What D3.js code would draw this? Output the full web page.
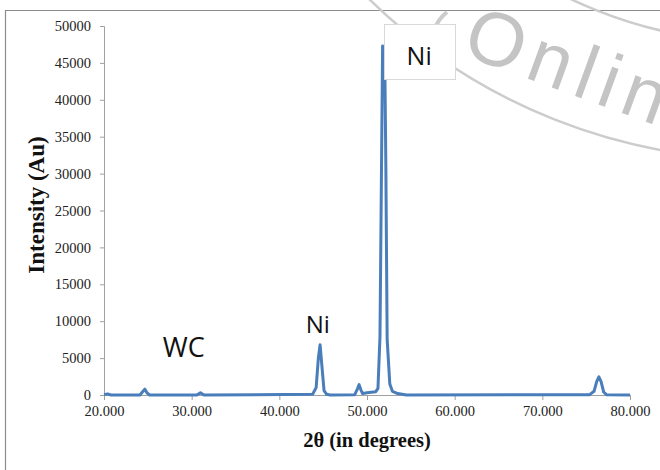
<!DOCTYPE html>
<html><head><meta charset="utf-8">
<script src="https://cdn.jsdelivr.net/npm/d3@7"></script>
<style>html,body{margin:0;padding:0;background:#fff;}svg{display:block;}</style>
</head><body>
<svg id="chart" width="660" height="470"></svg>
<script>
const twoTheta = [20.0, 20.4, 20.8, 24.1, 24.45, 24.65, 24.9, 25.2, 30.6, 31.0, 31.4,
  43.8, 44.2, 44.45, 44.65, 44.85, 45.1, 45.4, 45.8,
  48.6, 48.9, 49.1, 49.3, 49.5, 50.0, 51.0, 51.25, 51.48, 51.78, 52.05, 52.15, 52.3, 52.6, 52.9, 53.5, 54.5,
  75.4, 75.9, 76.2, 76.45, 76.7, 77.0, 77.3, 80.0];
const intensity = [50, 150, 0, 0, 500, 800, 300, 0, 0, 300, 0,
  100, 1000, 5000, 6800, 4000, 600, 100, 0,
  50, 800, 1400, 700, 200, 300, 450, 900, 7900, 47300, 43000, 31000, 7500, 1500, 500, 200, 0,
  50, 500, 1800, 2450, 1800, 400, 50, 0];
const xTicks = [20, 30, 40, 50, 60, 70, 80];
const yTicks = [0, 5000, 10000, 15000, 20000, 25000, 30000, 35000, 40000, 45000, 50000];
const labels = [
  {text: "WC", x: 26.7, y: 5100, size: 27},
  {text: "Ni", x: 43.0, y: 8400, size: 24}
];
const boxLabel = {text: "Ni", x: 55.95, y: 44700};

const svg = d3.select("#chart");
const x = d3.scaleLinear().domain([20, 80]).range([104, 630]);
const y = d3.scaleLinear().domain([0, 50000]).range([395, 26]);

// outer frame (left and top)
svg.append("path").attr("d", "M5.5,470 V10.5 H660").attr("fill", "none")
  .attr("stroke", "#8c8c8c").attr("stroke-width", 1.2);

// watermark
const wm = svg.append("g").attr("fill", "none").attr("stroke", "#cccccc").attr("stroke-width", 2.5);
wm.append("circle").attr("cx", 761).attr("cy", -401).attr("r", 560);
wm.append("circle").attr("cx", 761).attr("cy", -401).attr("r", 443);
wm.append("path").attr("d", "M437,46 Q428,28 447,12").attr("stroke-width", 4);
svg.append("text").text("Online")
  .attr("transform", "translate(460,54) rotate(20)")
  .attr("font-family", "Liberation Sans, Arial, sans-serif")
  .attr("font-size", 76).attr("letter-spacing", 8).attr("fill", "#c4c4c4");

// axes
const yAxis = d3.axisLeft(y).tickValues(yTicks).tickSize(4).tickPadding(9).tickFormat(d3.format("d"));
const xAxis = d3.axisBottom(x).tickValues(xTicks).tickSize(5).tickPadding(6).tickFormat(d3.format(".3f"));
const gy = svg.append("g").attr("transform", "translate(104,0)").call(yAxis);
const gx = svg.append("g").attr("transform", "translate(0,395)").call(xAxis);
[gx, gy].forEach(g => {
  g.select(".domain").attr("stroke", "#a0a0a0");
  g.selectAll(".tick line").attr("stroke", "#a0a0a0");
  g.selectAll("text").attr("font-family", "Liberation Serif, Times New Roman, serif")
    .attr("font-size", 14.5).attr("fill", "#222");
});

// line
const line = d3.line().x((d, i) => x(twoTheta[i])).y(d => y(d));
svg.append("path").datum(intensity).attr("d", line).attr("fill", "none")
  .attr("stroke", "#4a7ebb").attr("stroke-width", 3).attr("stroke-linejoin", "round");

// annotation box
svg.append("rect").attr("x", 384.5).attr("y", 24.5).attr("width", 71).attr("height", 55)
  .attr("fill", "#fff").attr("stroke", "#d9d9d9");
svg.append("text").text(boxLabel.text).attr("x", x(boxLabel.x)).attr("y", y(boxLabel.y))
  .attr("text-anchor", "middle").attr("font-family", "Open Sans, sans-serif")
  .attr("font-size", 25).attr("fill", "#111");

labels.forEach(l => {
  svg.append("text").text(l.text).attr("x", x(l.x)).attr("y", y(l.y))
    .attr("font-family", "Open Sans, sans-serif").attr("font-size", l.size)
    .attr("fill", "#111");
});

// axis titles
svg.append("text").text("2θ (in degrees)").attr("x", 367).attr("y", 447)
  .attr("text-anchor", "middle").attr("font-family", "Liberation Serif, Times New Roman, serif")
  .attr("font-weight", "bold").attr("font-size", 20.5).attr("fill", "#111");
svg.append("text").text("Intensity (Au)")
  .attr("transform", "translate(44,205) rotate(-90)")
  .attr("text-anchor", "middle").attr("font-family", "Liberation Serif, Times New Roman, serif")
  .attr("font-weight", "bold").attr("font-size", 23).attr("fill", "#111");
</script>
</body></html>
